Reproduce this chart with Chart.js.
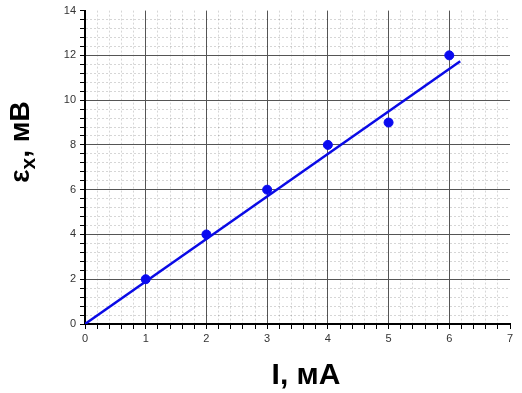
<!DOCTYPE html>
<html>
<head>
<meta charset="utf-8">
<script src="https://cdn.jsdelivr.net/npm/chart.js@4/dist/chart.umd.min.js"></script>
<style>
html,body{margin:0;padding:0;background:#fff;}
#wrap{width:522px;height:393px;position:relative;}
</style>
</head>
<body>
<div id="wrap"><canvas id="c" width="522" height="393"></canvas></div>
<script>
// Data
const currentMA = [1, 2, 3, 4, 5, 6];
const emfMV = [2, 4, 6, 8, 9, 12];
const fitX = [0, 6.18];
const fitY = [0, 11.74];
const xTitle = "I, мА";
const yTitleMain = "ε";
const yTitleSub = "x";
const yTitleRest = ", мВ";

const isMajor = v => Math.abs(v - Math.round(v)) < 1e-6;

function gridColor(ctx, majorStep, maxV) {
  if (!ctx.tick) return '#555';
  const v = ctx.tick.value;
  if (Math.abs(v - maxV) < 1e-6) return 'rgba(0,0,0,0)';
  if (isMajor(v / majorStep)) return '#555';
  return 'rgba(0,0,0,0.16)';
}
function gridDash(ctx, majorStep) {
  if (!ctx.tick) return [];
  return isMajor(ctx.tick.value / majorStep) ? [] : [2, 2];
}

const titlesPlugin = {
  id: 'titles',
  afterDraw(chart) {
    const c = chart.ctx;
    c.save();
    c.fillStyle = '#000';
    c.textBaseline = 'alphabetic';
    // x title
    c.font = 'bold 30px Arial, "Liberation Sans", sans-serif';
    c.textAlign = 'center';
    c.fillText(xTitle, 306, 384);
    // y title (rotated)
    c.translate(29, 142);
    c.rotate(-Math.PI / 2);
    const fMain = 'bold 28px Arial, "Liberation Sans", sans-serif';
    const fSub = 'bold 21px Arial, "Liberation Sans", sans-serif';
    c.font = fMain; const w1 = c.measureText(yTitleMain).width;
    const w3 = c.measureText(yTitleRest).width;
    c.font = fSub; const w2 = c.measureText(yTitleSub).width;
    let x = -(w1 + w2 + w3) / 2;
    c.textAlign = 'left';
    c.font = fMain; c.fillText(yTitleMain, x, 0); x += w1;
    c.font = fSub; c.fillText(yTitleSub, x, 6); x += w2;
    c.font = fMain; c.fillText(yTitleRest, x, 0);
    c.restore();
  }
};

new Chart(document.getElementById('c'), {
  type: 'scatter',
  data: {
    datasets: [
      {
        label: 'points',
        data: currentMA.map((x, i) => ({x: x, y: emfMV[i]})),
        backgroundColor: '#0a0af0',
        borderColor: '#0a0af0',
        pointRadius: 4.5,
        showLine: false
      },
      {
        label: 'fit',
        data: fitX.map((x, i) => ({x: x, y: fitY[i]})),
        borderColor: '#0a0ae6',
        borderWidth: 2.5,
        pointRadius: 0,
        showLine: true,
        fill: false
      }
    ]
  },
  options: {
    responsive: false,
    animation: false,
    devicePixelRatio: 1,
    layout: {padding: {left: 0, right: 12, top: 8, bottom: 0}},
    plugins: {legend: {display: false}, tooltip: {enabled: false}},
    scales: {
      x: {
        type: 'linear',
        min: 0, max: 7,
        afterFit(s) { s.height = 69; },
        ticks: {
          stepSize: 0.2,
          autoSkip: false,
          maxRotation: 0,
          padding: 3,
          color: '#333',
          font: {family: 'Arial, "Liberation Sans", sans-serif', size: 11},
          callback: v => isMajor(v) ? String(Math.round(v)) : ''
        },
        grid: {
          color: ctx => gridColor(ctx, 1, 7),
          lineWidth: 1,
          tickColor: '#000',
          tickLength: 5,
          tickWidth: 1
        },
        border: {display: true, color: '#000', width: 2, dash: ctx => gridDash(ctx, 1)}
      },
      y: {
        type: 'linear',
        min: 0, max: 14,
        afterFit(s) { s.width = 85; },
        ticks: {
          stepSize: 0.4,
          autoSkip: false,
          padding: 4,
          color: '#333',
          font: {family: 'Arial, "Liberation Sans", sans-serif', size: 11},
          callback: v => isMajor(v / 2) ? String(Math.round(v)) : ''
        },
        grid: {
          color: ctx => gridColor(ctx, 2, 14),
          lineWidth: 1,
          tickColor: '#000',
          tickLength: 5,
          tickWidth: 1
        },
        border: {display: true, color: '#000', width: 2, dash: ctx => gridDash(ctx, 2)}
      }
    }
  },
  plugins: [titlesPlugin]
});
</script>
</body>
</html>
